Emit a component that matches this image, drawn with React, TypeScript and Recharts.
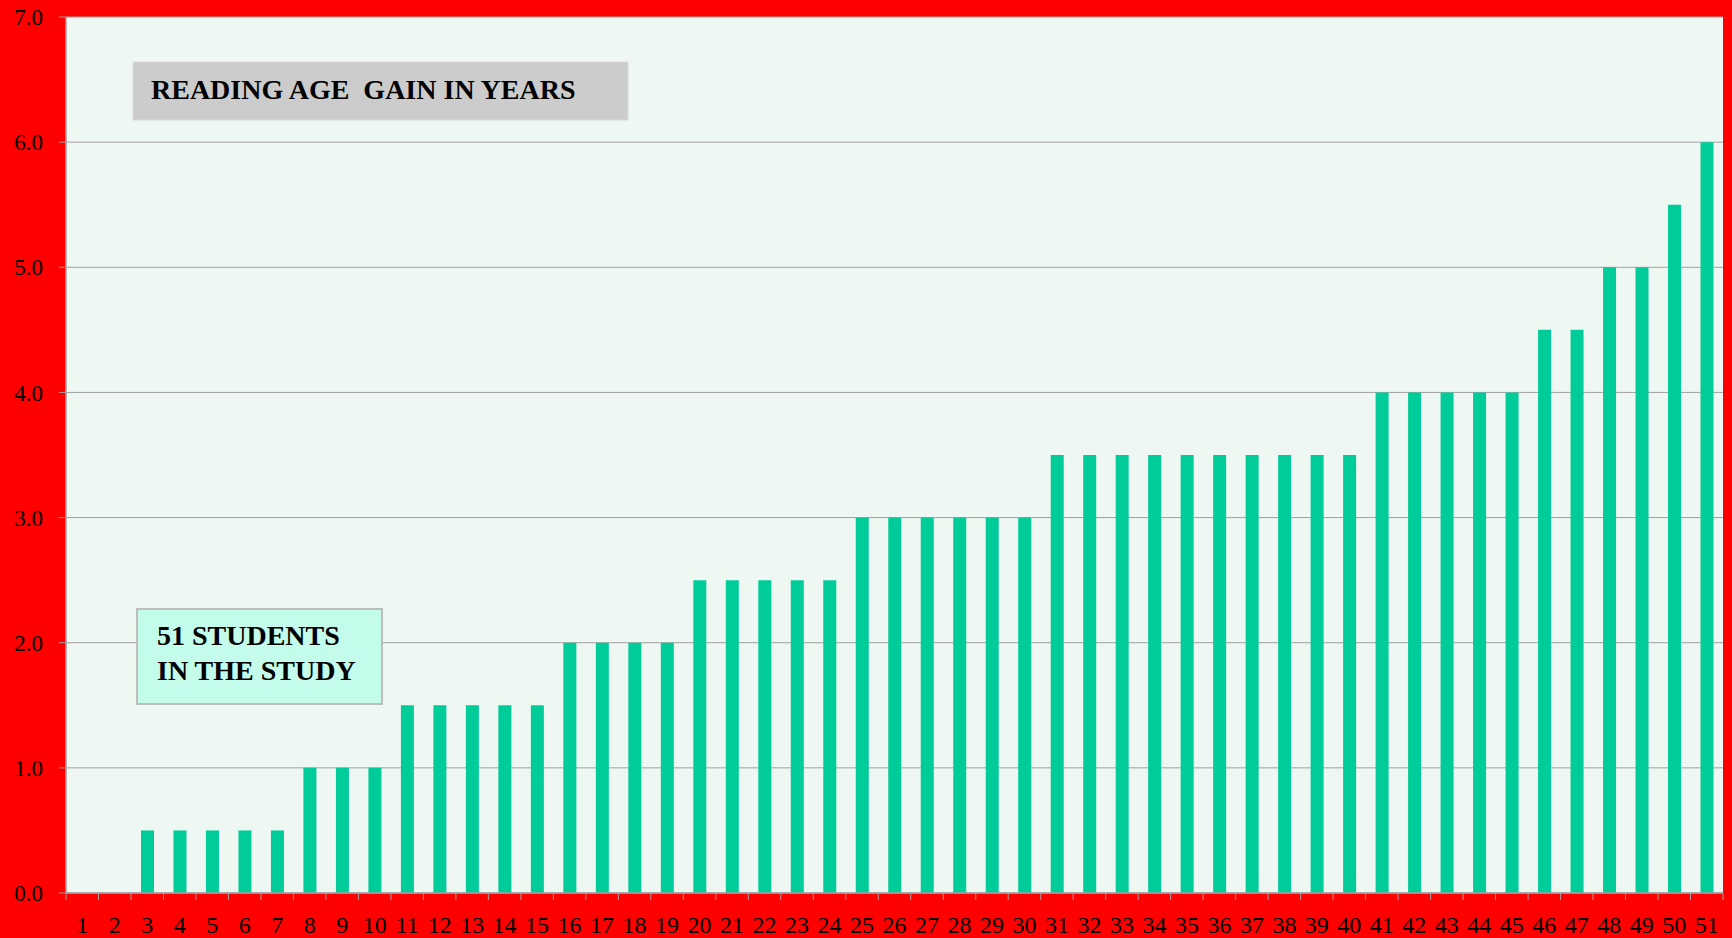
import React from "react";
import { BarChart, Bar, XAxis, YAxis, CartesianGrid } from "recharts";

// Student numbers along the category axis
const students: string[] = [
  "1", "2", "3", "4", "5", "6", "7", "8", "9", "10",
  "11", "12", "13", "14", "15", "16", "17", "18", "19", "20",
  "21", "22", "23", "24", "25", "26", "27", "28", "29", "30",
  "31", "32", "33", "34", "35", "36", "37", "38", "39", "40",
  "41", "42", "43", "44", "45", "46", "47", "48", "49", "50",
  "51",
];

// Reading age gain (years) for each student
const gains: number[] = [
  0, 0, 0.5, 0.5, 0.5, 0.5, 0.5, 1.0, 1.0, 1.0,
  1.5, 1.5, 1.5, 1.5, 1.5, 2.0, 2.0, 2.0, 2.0, 2.5,
  2.5, 2.5, 2.5, 2.5, 3.0, 3.0, 3.0, 3.0, 3.0, 3.0,
  3.5, 3.5, 3.5, 3.5, 3.5, 3.5, 3.5, 3.5, 3.5, 3.5,
  4.0, 4.0, 4.0, 4.0, 4.0, 4.5, 4.5, 5.0, 5.0, 5.5,
  6.0,
];

const yTicks: number[] = [0, 1, 2, 3, 4, 5, 6, 7];

const titleText = "READING AGE  GAIN IN YEARS";
const noteLines: string[] = ["51 STUDENTS", "IN THE STUDY"];

const data = students.map((s, i) => ({ student: s, gain: gains[i] }));

const FONT = '"Liberation Serif", "Times New Roman", serif';
const GRID = "#a0a0a0";

// Category labels centred in each band, with tick marks on the band edges
const StudentTick = (props: any) => {
  const { x, y, payload, index, width } = props;
  const half =
    payload && typeof payload.offset === "number" && payload.offset > 0
      ? payload.offset
      : (width || 1657) / students.length / 2;
  const isLast = index === students.length - 1;
  return (
    <g>
      <line x1={x - half} y1={y} x2={x - half} y2={y + 7} stroke={GRID} strokeWidth={1} />
      {isLast && (
        <line x1={x + half} y1={y} x2={x + half} y2={y + 7} stroke={GRID} strokeWidth={1} />
      )}
      <text
        x={x}
        y={y + 40}
        textAnchor="middle"
        fontSize={24}
        fontFamily={FONT}
        fill="#000"
      >
        {payload.value}
      </text>
    </g>
  );
};

export default function App() {
  return (
    <div
      style={{
        position: "absolute",
        left: 0,
        top: 0,
        width: 1732,
        height: 938,
        background: "#ff0000",
        overflow: "hidden",
      }}
    >
      <BarChart
        width={1732}
        height={938}
        data={data}
        margin={{ top: 17, right: 9, bottom: 0, left: 0 }}
        barSize={13}
      >
        <CartesianGrid
          vertical={false}
          stroke={GRID}
          strokeWidth={1}
          fill="#eef7f2"
          fillOpacity={1}
        />
        <XAxis
          dataKey="student"
          interval={0}
          height={45}
          tickLine={false}
          tickSize={0}
          tickMargin={0}
          axisLine={{ stroke: GRID, strokeWidth: 1.5 }}
          tick={<StudentTick />}
        />
        <YAxis
          domain={[0, 7]}
          ticks={yTicks}
          interval={0}
          width={66}
          tickSize={7}
          tickMargin={16}
          tickFormatter={(v: number) => v.toFixed(1)}
          tick={{ fill: "#000", fontSize: 23, fontFamily: FONT }}
          tickLine={{ stroke: GRID }}
          axisLine={{ stroke: GRID, strokeWidth: 1.5 }}
        />
        <YAxis
          yAxisId="frame"
          orientation="right"
          domain={[0, 7]}
          width={0}
          tick={false}
          tickLine={false}
          axisLine={{ stroke: GRID }}
        />
        <Bar dataKey="gain" fill="#00cc99" isAnimationActive={false} />
      </BarChart>

      <svg
        width={1732}
        height={938}
        style={{ position: "absolute", left: 0, top: 0, pointerEvents: "none" }}
      >
        <rect x={133} y={62} width={495} height={58} fill="#cccccc" stroke="#d9d9d9" strokeWidth={1} />
        <text
          x={151}
          y={99}
          fontFamily={FONT}
          fontWeight="bold"
          fontSize={28}
          fill="#000"
          style={{ whiteSpace: "pre" }}
        >
          {titleText}
        </text>

        <rect x={137} y={609} width={245} height={95} fill="#c4fcec" stroke="#bdbdbd" strokeWidth={2} />
        {noteLines.map((line, i) => (
          <text
            key={line}
            x={157}
            y={645 + i * 35}
            fontFamily={FONT}
            fontWeight="bold"
            fontSize={28}
            fill="#000"
          >
            {line}
          </text>
        ))}
      </svg>
    </div>
  );
}
